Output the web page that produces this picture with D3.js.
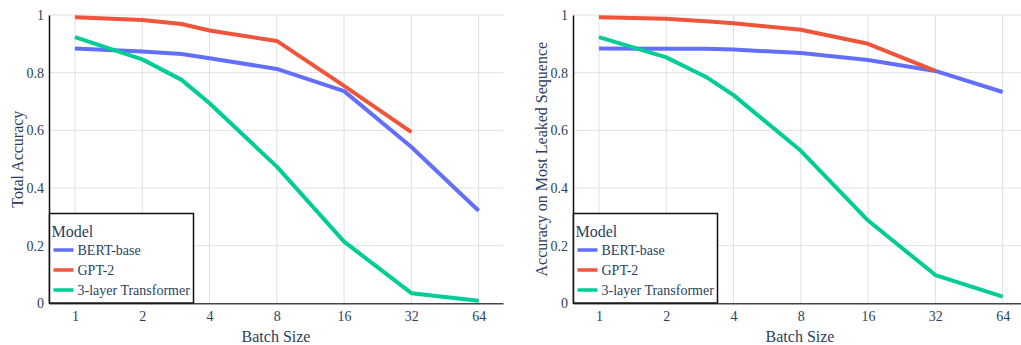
<!DOCTYPE html>
<html>
<head>
<meta charset="utf-8">
<script src="https://cdn.jsdelivr.net/npm/d3@7"></script>
<style>
  body { margin: 0; background: #fff; }
  svg { display: block; font-family: "Liberation Serif", "Times New Roman", serif; }
</style>
</head>
<body>
<div id="chart"></div>
<script>
// batch sizes on x, accuracies
var batchSizes = [1, 2, 3, 4, 8, 16, 32, 64];
var xTickVals = [1, 2, 4, 8, 16, 32, 64];
var yTickVals = [0, 0.2, 0.4, 0.6, 0.8, 1];

var modelNames = ["BERT-base", "GPT-2", "3-layer Transformer"];
var modelColors = ["#636efa", "#EF553B", "#00cc96"];

var totalBert  = [0.884, 0.873, 0.865, 0.850, 0.813, 0.736, 0.542, 0.321];
var totalGpt2  = [0.992, 0.983, 0.969, 0.946, 0.910, 0.754, 0.594];
var totalTrans = [0.923, 0.846, 0.775, 0.694, 0.474, 0.214, 0.035, 0.009];

var leakBert  = [0.884, 0.883, 0.883, 0.880, 0.868, 0.844, 0.806, 0.733];
var leakGpt2  = [0.992, 0.987, 0.978, 0.971, 0.949, 0.900, 0.806];
var leakTrans = [0.923, 0.853, 0.786, 0.722, 0.529, 0.287, 0.098, 0.023];

var W = 1021, H = 345;
var fontColor = "#2a3f5f";

var svg = d3.select("#chart").append("svg")
  .attr("width", W)
  .attr("height", H);

var panels = [
  { left: 49, title: "Total Accuracy", titleX: 17, series: [totalBert, totalGpt2, totalTrans] },
  { left: 573, title: "Accuracy on Most Leaked Sequence", titleX: 541, series: [leakBert, leakGpt2, leakTrans] }
];

var plotW = 454, plotTop = 15, plotBottom = 303.3;
// log2 range padded like plotly autorange
var logLo = -0.386, logHi = 6.362;

panels.forEach(function(p) {
  var x = d3.scaleLog().base(2)
            .domain([Math.pow(2, logLo), Math.pow(2, logHi)])
            .range([p.left, p.left + plotW]);

  var y = d3.scaleLinear()
            .domain([0, 1])
            .range([plotBottom, plotTop]);

  var g = svg.append("g");

  // grid lines
  g.append("g")
    .selectAll("line")
    .data(xTickVals)
    .enter().append("line")
    .attr("x1", function(d) { return x(d); })
    .attr("x2", function(d) { return x(d); })
    .attr("y1", plotTop)
    .attr("y2", plotBottom)
    .attr("stroke", "#e0e0e0")
    .attr("stroke-width", 1);

  g.append("g")
    .selectAll("line")
    .data(yTickVals.slice(1))
    .enter().append("line")
    .attr("x1", p.left)
    .attr("x2", p.left + plotW)
    .attr("y1", function(d) { return y(d); })
    .attr("y2", function(d) { return y(d); })
    .attr("stroke", "#e0e0e0")
    .attr("stroke-width", 1);

  // x axis
  var xAxis = g.append("g")
    .attr("transform", "translate(0," + plotBottom + ")")
    .call(d3.axisBottom(x).tickValues(xTickVals).tickFormat(d3.format("d")).tickSize(0).tickPadding(8));
  xAxis.select(".domain").attr("stroke", "#444").attr("stroke-width", 1.5);
  xAxis.selectAll("text").attr("fill", fontColor).style("font-size", "14px").style("font-family", "Liberation Serif");

  // y axis
  var yAxis = g.append("g")
    .attr("transform", "translate(" + p.left + ",0)")
    .call(d3.axisLeft(y).tickValues(yTickVals).tickFormat(d3.format("~g")).tickSize(0).tickPadding(5));
  yAxis.select(".domain").attr("stroke", "#111").attr("stroke-width", 1.5);
  yAxis.selectAll("text").attr("fill", fontColor).style("font-size", "14px").style("font-family", "Liberation Serif");

  // lines
  var line = d3.line()
    .x(function(d) { return x(d[0]); })
    .y(function(d) { return y(d[1]); });

  p.series.forEach(function(vals, i) {
    var pts = vals.map(function(v, j) { return [batchSizes[j], v]; });
    g.append("path")
      .attr("d", line(pts))
      .attr("fill", "none")
      .attr("stroke", modelColors[i])
      .attr("stroke-width", 4)
      .attr("stroke-linejoin", "round");
  });

  // x axis label
  g.append("text")
    .attr("x", p.left + plotW / 2)
    .attr("y", 342)
    .attr("text-anchor", "middle")
    .attr("fill", fontColor)
    .style("font-size", "16px")
    .text("Batch Size");

  // y axis label
  g.append("text")
    .attr("transform", "translate(" + p.titleX + "," + ((plotTop + plotBottom) / 2) + ") rotate(-90)")
    .attr("text-anchor", "middle")
    .attr("dy", "0.35em")
    .attr("fill", fontColor)
    .style("font-size", "16px")
    .text(p.title);

  // legend
  var lg = g.append("g").attr("transform", "translate(" + (p.left + 0.5) + ",213.5)");
  lg.append("rect")
    .attr("width", 144)
    .attr("height", 89.5)
    .attr("fill", "#fff")
    .attr("stroke", "#111")
    .attr("stroke-width", 1.5);
  lg.append("text")
    .attr("x", 2)
    .attr("y", 23)
    .attr("fill", fontColor)
    .style("font-size", "16px")
    .text("Model");
  modelNames.forEach(function(name, i) {
    var cy = 36.5 + i * 20;
    lg.append("line")
      .attr("x1", 4).attr("x2", 24)
      .attr("y1", cy).attr("y2", cy)
      .attr("stroke", modelColors[i])
      .attr("stroke-width", 3.5);
    lg.append("text")
      .attr("x", 28)
      .attr("y", cy)
      .attr("dy", "0.35em")
      .attr("fill", fontColor)
      .style("font-size", "14px")
      .text(name);
  });
});
</script>
</body>
</html>
